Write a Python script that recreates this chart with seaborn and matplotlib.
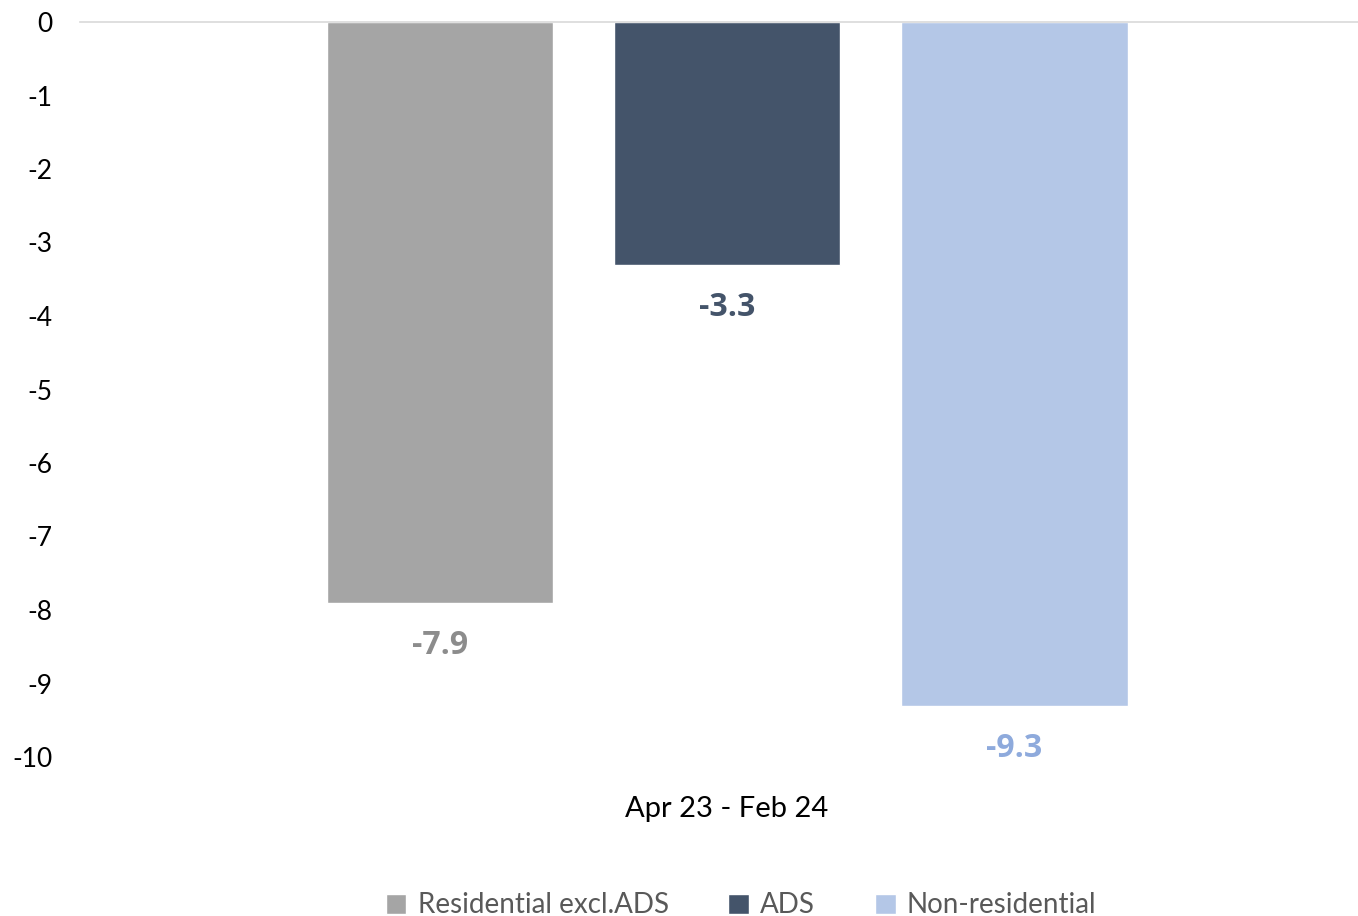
import matplotlib
matplotlib.use("Agg")
import matplotlib.pyplot as plt
import seaborn as sns
import pandas as pd

period = ["Apr 23 - Feb 24"]
series = ["Residential excl.ADS", "ADS", "Non-residential"]
values = [-7.9, -3.3, -9.3]
yticks = [0, -1, -2, -3, -4, -5, -6, -7, -8, -9, -10]

bar_colors = ["#a5a5a5", "#44546a", "#b4c7e7"]
label_colors = ["#8c8c8c", "#44546a", "#8eaadc"]

sns.set_theme(style="white")
plt.rcParams["font.family"] = ["Lato", "DejaVu Sans"]

df = pd.DataFrame({"period": period * len(series), "series": series, "value": values})

fig = plt.figure(figsize=(13.58, 9.16), dpi=100)
ax = fig.add_axes([80 / 1358, 1 - 757 / 916, 1 - 80 / 1358, (757 - 22) / 916])
sns.barplot(data=df, x="period", y="value", hue="series", palette=bar_colors,
            hue_order=series, width=0.8, gap=0.21, ax=ax, legend=True, saturation=1)

ax.set_ylim(-10, 0)
ax.set_xlim(-0.601, 0.586)
ax.set_yticks(yticks)
ax.set_yticklabels([str(t) for t in yticks], fontsize=19, color="#000000")
ax.tick_params(axis="y", length=0, pad=20)
ax.tick_params(axis="x", length=0, labelsize=21, pad=28, labelcolor="#000000")
ax.set_xlabel("")
ax.set_ylabel("")
for s in ["left", "right", "bottom"]:
    ax.spines[s].set_visible(False)
ax.spines["top"].set_visible(True)
ax.spines["top"].set_color("#d9d9d9")
ax.spines["top"].set_linewidth(1.2)

for cont, col in zip(ax.containers, label_colors):
    ax.bar_label(cont, fmt="%.1f", padding=19, fontsize=23, fontweight="bold",
                 color=col, family=["Open Sans", "DejaVu Sans"])

h, l = ax.get_legend_handles_labels()
ax.get_legend().remove()
fig.legend(h, l, loc="lower center", bbox_to_anchor=(741 / 1358, -0.03), ncol=3,
           frameon=False, fontsize=20, handlelength=0.75, handleheight=0.75,
           columnspacing=2.15, handletextpad=0.4, labelcolor="#595959")

fig.savefig("out.png", dpi=100)
